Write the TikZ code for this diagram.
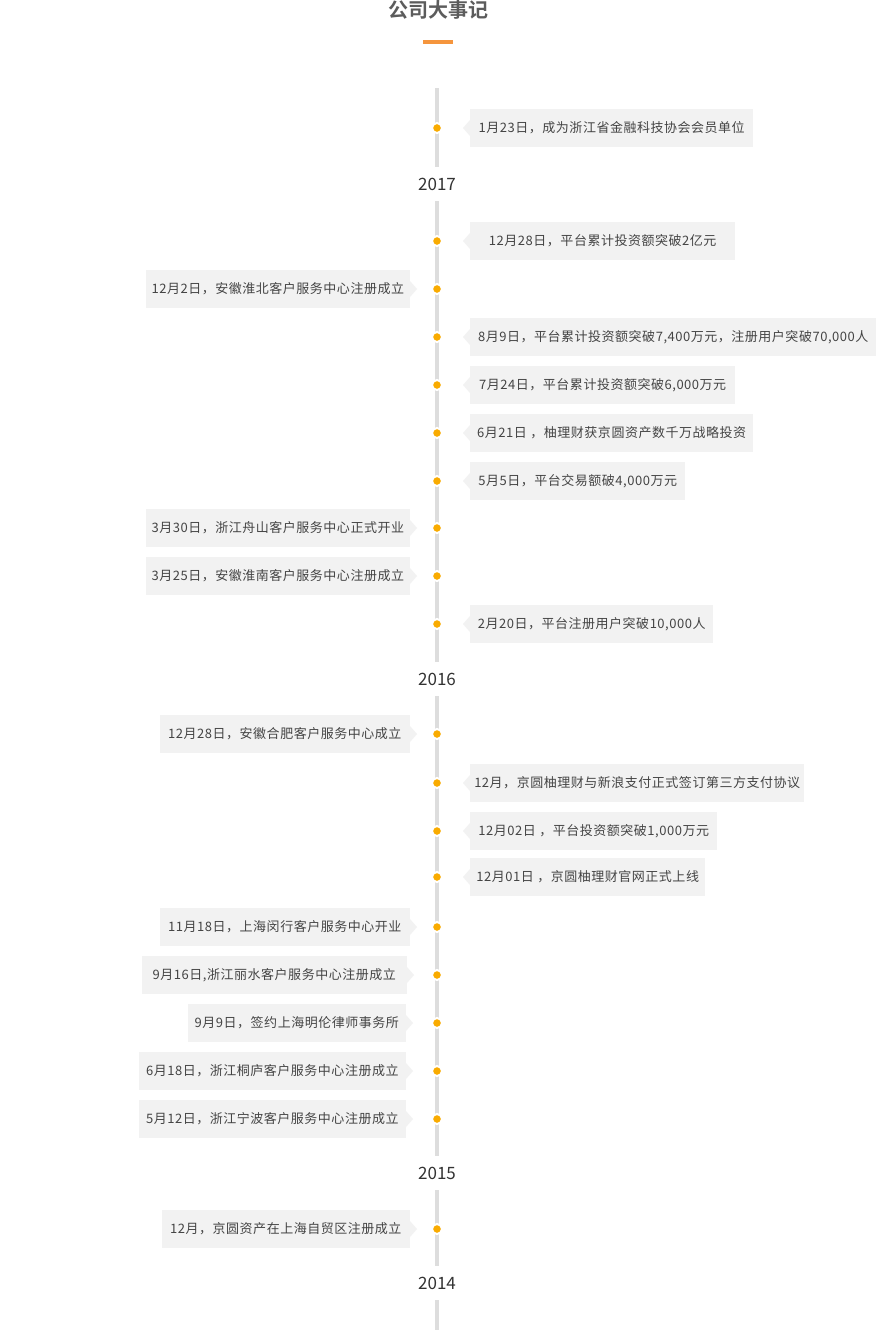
\documentclass[tikz,border=0pt]{standalone}
\usepackage{fontspec}
\setmainfont{Noto Sans CJK SC}
\newfontfamily\evfont[LetterSpace=4]{Noto Sans CJK SC}
\newfontfamily\titlefont{Noto Sans CJK SC Bold}
\definecolor{boxgray}{HTML}{F2F2F2}
\definecolor{linegray}{HTML}{DDDDDD}
\definecolor{dotc}{HTML}{F9AB00}
\definecolor{txt}{HTML}{444444}
\definecolor{yeartxt}{HTML}{333333}
\definecolor{titletxt}{HTML}{5C5C5C}
\definecolor{barorange}{HTML}{F5953D}
\tikzset{
  evbox/.style={fill=boxgray, minimum height=38pt, inner sep=0pt, text=txt, font=\evfont\fontsize{13pt}{15pt}\selectfont},
  dotnode/.style={circle, fill=dotc, draw=white, line width=2pt, minimum size=10pt, inner sep=0pt},
  yearnode/.style={minimum height=34pt, inner sep=0pt, text=yeartxt, font=\fontsize{17pt}{19pt}\selectfont},
  tline/.style={draw=linegray, line width=4pt}
}
\newcommand\evright[4]{%
  \node[dotnode] (d#1) at (437,#2) {};
  \node[evbox, anchor=west, minimum width=#3pt] (b#1) at (470,#2) {#4};
  \fill[boxgray] ([yshift=8pt]b#1.west) -- ([xshift=-7pt]b#1.west) -- ([yshift=-8pt]b#1.west) -- cycle;
}
\newcommand\evleft[5]{%
  \node[dotnode] (d#1) at (437,#2) {};
  \node[evbox, anchor=east, minimum width=#3pt] (b#1) at (#4,#2) {#5};
  \fill[boxgray] ([yshift=8pt]b#1.east) -- ([xshift=7pt]b#1.east) -- ([yshift=-8pt]b#1.east) -- cycle;
}
\begin{document}
\begin{tikzpicture}[x=1pt,y=-1pt]
\useasboundingbox[fill=white] (0,0) rectangle (876,1330);
% title
\node[text=titletxt, font=\titlefont\fontsize{20pt}{22pt}\selectfont, inner sep=0pt] (title) at (438,10) {公司大事记};
\fill[barorange] (423,40) rectangle (453,44);
% years
\node[yearnode] (y2017) at (437,184) {2017};
\node[yearnode] (y2016) at (437,679) {2016};
\node[yearnode] (y2015) at (437,1173) {2015};
\node[yearnode] (y2014) at (437,1283) {2014};
\coordinate (ltop) at (437,88);
\coordinate (lbot) at (437,1330);
\draw[tline] (ltop) -- (y2017.north);
\draw[tline] (y2017.south) -- (y2016.north);
\draw[tline] (y2016.south) -- (y2015.north);
\draw[tline] (y2015.south) -- (y2014.north);
\draw[tline] (y2014.south) -- (lbot);
% events
\evright{1}{128}{283}{1月23日，成为浙江省金融科技协会会员单位}
\evright{2}{241}{265}{12月28日，平台累计投资额突破2亿元}
\evleft{3}{289}{264}{410}{12月2日，安徽淮北客户服务中心注册成立}
\evright{4}{337}{406}{8月9日，平台累计投资额突破7,400万元，注册用户突破70,000人}
\evright{5}{385}{265}{7月24日，平台累计投资额突破6,000万元}
\evright{6}{433}{283}{6月21日 ，柚理财获京圆资产数千万战略投资}
\evright{7}{481}{215}{5月5日，平台交易额破4,000万元}
\evleft{8}{528}{264}{410}{3月30日，浙江舟山客户服务中心正式开业}
\evleft{9}{576}{264}{410}{3月25日，安徽淮南客户服务中心注册成立}
\evright{10}{624}{243}{2月20日，平台注册用户突破10,000人}
\evleft{11}{734}{250}{410}{12月28日，安徽合肥客户服务中心成立}
\evright{12}{783}{334}{12月，京圆柚理财与新浪支付正式签订第三方支付协议}
\evright{13}{831}{247}{12月02日 ，平台投资额突破1,000万元}
\evright{14}{877}{235}{12月01日 ，京圆柚理财官网正式上线}
\evleft{15}{927}{250}{410}{11月18日，上海闵行客户服务中心开业}
\evleft{16}{975}{265}{407}{9月16日,浙江丽水客户服务中心注册成立}
\evleft{17}{1023}{218}{406}{9月9日，签约上海明伦律师事务所}
\evleft{18}{1071}{267}{406}{6月18日，浙江桐庐客户服务中心注册成立}
\evleft{19}{1119}{267}{406}{5月12日，浙江宁波客户服务中心注册成立}
\evleft{20}{1229}{248}{410}{12月，京圆资产在上海自贸区注册成立}
\end{tikzpicture}
\end{document}
